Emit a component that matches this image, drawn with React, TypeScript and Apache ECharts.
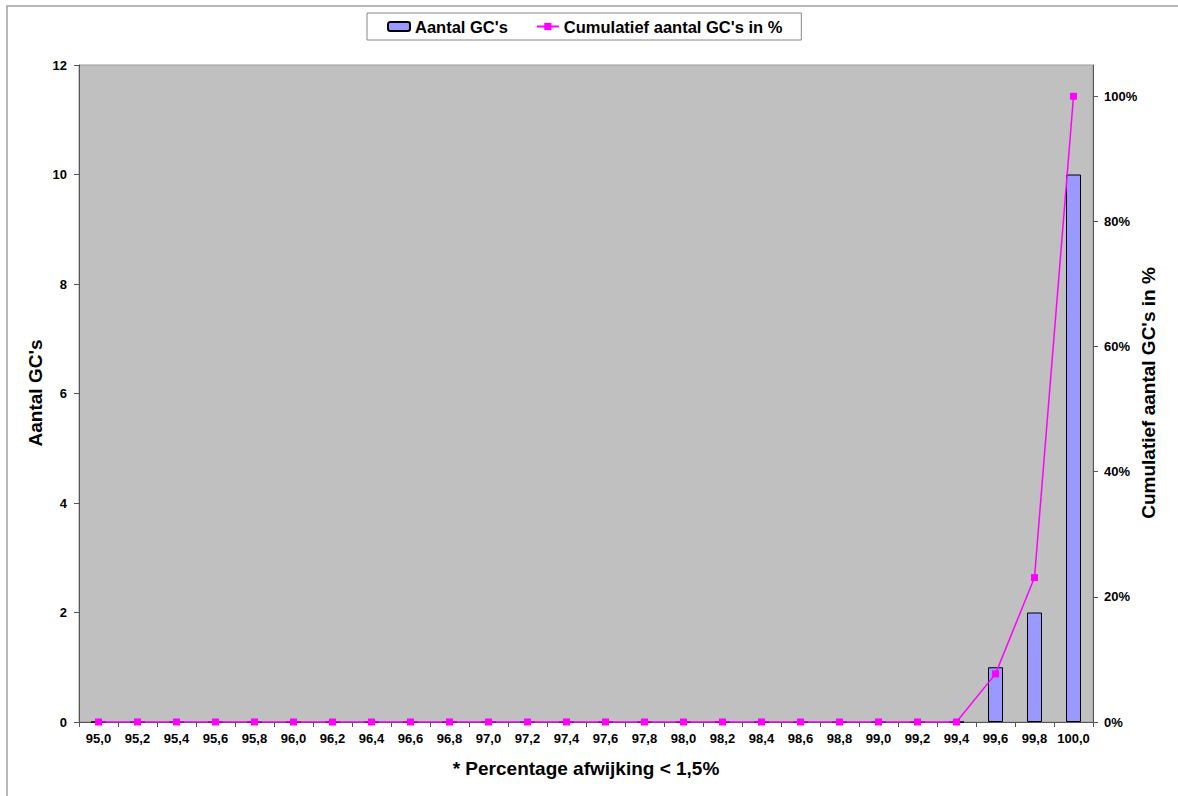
import React, { useEffect, useRef } from "react";
import * as echarts from "echarts";

const categories = [
  "95,0", "95,2", "95,4", "95,6", "95,8", "96,0", "96,2", "96,4", "96,6", "96,8",
  "97,0", "97,2", "97,4", "97,6", "97,8", "98,0", "98,2", "98,4", "98,6", "98,8",
  "99,0", "99,2", "99,4", "99,6", "99,8", "100,0",
];
const counts = [0, 0, 0, 0, 0, 0, 0, 0, 0, 0, 0, 0, 0, 0, 0, 0, 0, 0, 0, 0, 0, 0, 0, 1, 2, 10];
const cumulative = [0, 0, 0, 0, 0, 0, 0, 0, 0, 0, 0, 0, 0, 0, 0, 0, 0, 0, 0, 0, 0, 0, 0, 0.0769, 0.2308, 1.0];
const leftTicks = [0, 2, 4, 6, 8, 10, 12];
const rightTicks = [0, 0.2, 0.4, 0.6, 0.8, 1.0];

const seriesNames = ["Aantal GC's", "Cumulatief aantal GC's in %"];
const axisTitles = {
  left: "Aantal GC's",
  right: "Cumulatief aantal GC's in %",
  bottom: "* Percentage afwijking < 1,5%",
};

const FONT = "'Liberation Sans', Arial, sans-serif";

export default function App() {
  const ref = useRef<HTMLDivElement>(null);
  useEffect(() => {
    if (!ref.current) return;
    const chart = echarts.init(ref.current, null, { renderer: "svg" });
    const labelStyle = { fontFamily: FONT, fontWeight: "bold" as const, fontSize: 13, color: "#000" };
    chart.setOption({
      animation: false,
      backgroundColor: "#fff",
      textStyle: { fontFamily: FONT },
      legend: {
        left: 367,
        top: 13,
        padding: [5, 19, 5, 20],
        itemGap: 28,
        itemWidth: 22,
        itemHeight: 9,
        backgroundColor: "#fff",
        borderColor: "#888",
        borderWidth: 1,
        textStyle: { fontFamily: FONT, fontWeight: "bold", fontSize: 16.5, color: "#000" },
        data: seriesNames,
      },
      grid: {
        left: 79,
        right: 85,
        top: 65,
        bottom: 74,
        show: true,
        backgroundColor: "#C0C0C0",
        borderColor: "#9a9a9a",
        borderWidth: 1,
      },
      xAxis: {
        type: "category",
        data: categories,
        boundaryGap: true,
        axisLine: { lineStyle: { color: "#555", width: 1 } },
        axisTick: { show: true, length: 5, lineStyle: { color: "#555" } },
        axisLabel: { ...labelStyle, margin: 10, interval: 0 },
        splitLine: { show: false },
      },
      yAxis: [
        {
          type: "value",
          min: 0,
          max: 12,
          interval: 2,
          axisLine: { show: true, lineStyle: { color: "#555" } },
          axisTick: { show: true, length: 5, lineStyle: { color: "#555" }, customValues: leftTicks },
          axisLabel: { ...labelStyle, margin: 12, customValues: leftTicks },
          splitLine: { show: false },
        },
        {
          type: "value",
          min: 0,
          max: 1.05,
          interval: 0.2,
          position: "right",
          axisLine: { show: true, lineStyle: { color: "#555" } },
          axisTick: { show: true, length: 5, lineStyle: { color: "#555" }, customValues: rightTicks },
          axisLabel: {
            ...labelStyle,
            margin: 11,
            customValues: rightTicks,
            formatter: (v: number) => Math.round(v * 100) + "%",
          },
          splitLine: { show: false },
        },
      ],
      series: [
        {
          name: seriesNames[0],
          type: "bar",
          yAxisIndex: 0,
          data: counts,
          barWidth: 15,
          itemStyle: { color: "#9999FF", borderColor: "#000", borderWidth: 1 },
        },
        {
          name: seriesNames[1],
          type: "line",
          yAxisIndex: 1,
          data: cumulative,
          symbol: "rect",
          symbolSize: 7,
          lineStyle: { color: "#FF00FF", width: 1.5 },
          itemStyle: { color: "#FF00FF" },
        },
      ],
      graphic: [
        {
          type: "rect",
          silent: true,
          shape: { x: 7, y: 6, width: 1300, height: 1000 },
          style: { fill: "none", stroke: "#a0a0a0", lineWidth: 1.5 },
          z: -10,
        },
        {
          type: "text",
          x: 35,
          y: 393,
          rotation: Math.PI / 2,
          style: {
            text: axisTitles.left,
            font: `bold 19px ${FONT}`,
            fill: "#000",
            align: "center",
            verticalAlign: "middle",
          },
        },
        {
          type: "text",
          x: 1148,
          y: 393,
          rotation: Math.PI / 2,
          style: {
            text: axisTitles.right,
            font: `bold 19px ${FONT}`,
            fill: "#000",
            align: "center",
            verticalAlign: "middle",
          },
        },
        {
          type: "text",
          x: 586,
          y: 768,
          style: {
            text: axisTitles.bottom,
            font: `bold 19px ${FONT}`,
            fill: "#000",
            align: "center",
            verticalAlign: "middle",
          },
        },
      ],
    });
    return () => chart.dispose();
  }, []);
  return (
    <div
      ref={ref}
      style={{ position: "absolute", left: 0, top: 0, width: 1178, height: 796 }}
    />
  );
}
